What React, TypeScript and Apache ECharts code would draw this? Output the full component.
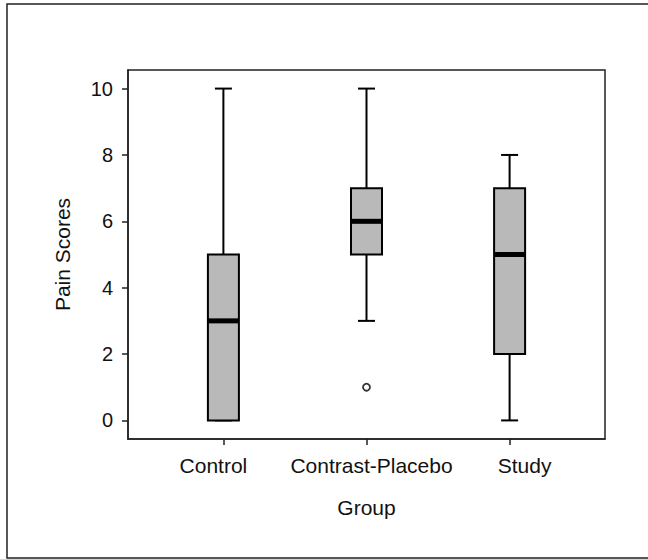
import React, { useEffect, useRef } from "react";
import * as echarts from "echarts";

const groups = ["Control", "Contrast-Placebo", "Study"];
const whiskerLow = [0, 3, 0];
const quartile1 = [0, 5, 2];
const medians = [3, 6, 5];
const quartile3 = [5, 7, 7];
const whiskerHigh = [10, 10, 8];
const outlierGroups = ["Contrast-Placebo"];
const outlierValues = [1];
const yTicks = [0, 2, 4, 6, 8, 10];

const FONT = "'Liberation Sans', Arial, Helvetica, sans-serif";

export default function App() {
  const ref = useRef<HTMLDivElement>(null);
  useEffect(() => {
    if (!ref.current) return;
    const chart = echarts.init(ref.current, null, { renderer: "svg" });
    const boxData = groups.map((g, i) => [
      i + 1,
      whiskerLow[i],
      quartile1[i],
      medians[i],
      quartile3[i],
      whiskerHigh[i],
    ]);
    const outlierData = outlierGroups.map((g, i) => [groups.indexOf(g) + 1, outlierValues[i]]);
    const boxW = 31;
    const capW = 17;
    const labelShift = [-10, 5, 15];

    const rich: any = {};
    groups.forEach((g, i) => {
      const s = labelShift[i];
      rich["c" + i] = {
        fontSize: 21,
        fontFamily: FONT,
        color: "#111",
        padding: s < 0 ? [0, -2 * s, 0, 0] : [0, 0, 0, 2 * s],
      };
    });

    chart.setOption({
      animation: false,
      backgroundColor: "#fff",
      grid: {
        left: 128,
        top: 70,
        right: 43,
        bottom: 120,
        show: true,
        borderColor: "#222",
        borderWidth: 1.5,
        backgroundColor: "transparent",
      },
      xAxis: {
        type: "value",
        min: 1 / 3,
        max: 11 / 3,
        name: "Group",
        nameLocation: "middle",
        nameGap: 58,
        nameTextStyle: { fontSize: 21, fontFamily: FONT, color: "#111" },
        axisLine: { show: true, onZero: false, lineStyle: { color: "#222", width: 1.5 } },
        axisTick: {
          show: true,
          customValues: [1, 2, 3],
          length: 6,
          lineStyle: { color: "#222", width: 1.5 },
        },
        axisLabel: {
          customValues: [1, 2, 3],
          margin: 16,
          fontSize: 21,
          fontFamily: FONT,
          color: "#111",
          formatter: (v: number) => {
            const i = Math.round(v) - 1;
            return `{c${i}|${groups[i]}}`;
          },
          rich,
        },
        splitLine: { show: false },
      },
      yAxis: {
        type: "value",
        min: -0.56,
        max: 10.56,
        name: "Pain Scores",
        nameLocation: "middle",
        nameRotate: 90,
        nameGap: 55,
        nameTextStyle: { fontSize: 21, fontFamily: FONT, color: "#111" },
        axisLine: { show: true, onZero: false, lineStyle: { color: "#222", width: 1.5 } },
        axisTick: {
          show: true,
          customValues: yTicks,
          length: 6,
          lineStyle: { color: "#222", width: 1.5 },
        },
        axisLabel: {
          customValues: yTicks,
          margin: 15,
          fontSize: 20,
          fontFamily: FONT,
          color: "#111",
        },
        splitLine: { show: false },
      },
      graphic: [
        {
          type: "polyline",
          shape: { points: [[660, 4], [7, 4], [7, 558], [660, 558]] },
          style: { stroke: "#222", lineWidth: 1.5, fill: "none" },
          silent: true,
        },
      ],
      series: [
        {
          type: "custom",
          data: boxData,
          encode: { x: 0, y: [1, 2, 3, 4, 5] },
          renderItem: (params: any, api: any) => {
            const x = api.value(0);
            const pLo = api.coord([x, api.value(1)]);
            const pQ1 = api.coord([x, api.value(2)]);
            const pMed = api.coord([x, api.value(3)]);
            const pQ3 = api.coord([x, api.value(4)]);
            const pHi = api.coord([x, api.value(5)]);
            const cx = pQ1[0];
            const ls = { stroke: "#000", lineWidth: 2 };
            return {
              type: "group",
              children: [
                { type: "line", shape: { x1: cx, y1: pQ3[1], x2: cx, y2: pHi[1] }, style: ls },
                { type: "line", shape: { x1: cx - capW / 2, y1: pHi[1], x2: cx + capW / 2, y2: pHi[1] }, style: ls },
                { type: "line", shape: { x1: cx, y1: pQ1[1], x2: cx, y2: pLo[1] }, style: ls },
                { type: "line", shape: { x1: cx - capW / 2, y1: pLo[1], x2: cx + capW / 2, y2: pLo[1] }, style: ls },
                {
                  type: "rect",
                  shape: { x: cx - boxW / 2, y: pQ3[1], width: boxW, height: pQ1[1] - pQ3[1] },
                  style: { fill: "#b9b9b9", stroke: "#000", lineWidth: 2 },
                },
                {
                  type: "line",
                  shape: { x1: cx - boxW / 2, y1: pMed[1], x2: cx + boxW / 2, y2: pMed[1] },
                  style: { stroke: "#000", lineWidth: 5 },
                },
              ],
            };
          },
        },
        {
          type: "scatter",
          data: outlierData,
          symbol: "circle",
          symbolSize: 7,
          itemStyle: { color: "#fff", borderColor: "#000", borderWidth: 1.8 },
        },
      ],
    });
    return () => chart.dispose();
  }, []);
  return (
    <div
      ref={ref}
      style={{ position: "fixed", left: 0, top: 0, width: 648, height: 559, background: "#fff" }}
    />
  );
}
